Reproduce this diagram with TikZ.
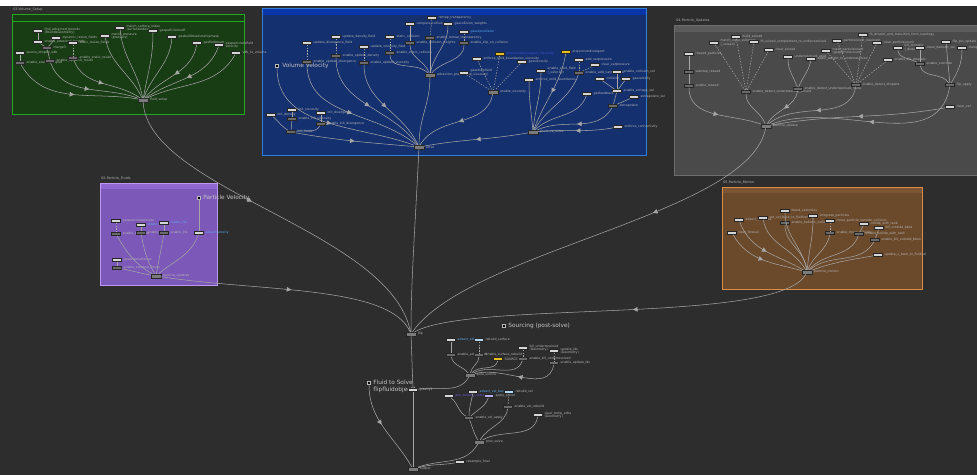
\documentclass[tikz,border=0pt]{standalone}
\usepackage{fontspec}
\setmainfont{DejaVu Sans}
\usetikzlibrary{arrows.meta}
\usetikzlibrary{decorations.markings}

\definecolor{netbg}{HTML}{2D2D2D}
\definecolor{greenfill}{HTML}{183C14}
\definecolor{greenedge}{HTML}{22A822}
\definecolor{bluefill}{HTML}{14306E}
\definecolor{bluebar}{HTML}{0835A8}
\definecolor{blueedge}{HTML}{2F7FDA}
\definecolor{grayfill}{HTML}{4A4A4A}
\definecolor{graybar}{HTML}{5C5C5C}
\definecolor{grayedge}{HTML}{6E6E6E}
\definecolor{purplefill}{HTML}{7C58B8}
\definecolor{purplebar}{HTML}{9068D2}
\definecolor{purpleedge}{HTML}{BC98F2}
\definecolor{orangefill}{HTML}{6B4A2C}
\definecolor{orangebar}{HTML}{7C5534}
\definecolor{orangeedge}{HTML}{D88E46}
\definecolor{nodewhite}{HTML}{D6D6D6}
\definecolor{switchgray}{HTML}{6A6A6A}
\definecolor{hubgray}{HTML}{7A7A7A}
\definecolor{flagyellow}{HTML}{E6BE1E}
\definecolor{paleblue}{HTML}{B4D8F2}
\definecolor{palelilac}{HTML}{B8B0EC}
\definecolor{labelgray}{HTML}{B4B4B4}
\definecolor{bigtextgray}{HTML}{C4C4C4}
\definecolor{wiregray}{HTML}{A6A6A6}
\definecolor{linkblue}{HTML}{5AB0F5}
\definecolor{deepblue}{HTML}{3A55E0}
\definecolor{linkpurple}{HTML}{6A5AE8}

\tikzset{
  nd/.style={draw=black!85, fill=nodewhite, minimum width=0.18cm, minimum height=0.065cm, inner sep=0pt, line width=0.15pt},
  sw/.style={nd, fill=switchgray},
  hub/.style={nd, fill=hubgray, minimum width=0.2cm, minimum height=0.075cm},
  ynd/.style={nd, fill=flagyellow},
  pbnd/.style={nd, fill=paleblue},
  plnd/.style={nd, fill=palelilac},
  lbl/.style={font=\fontsize{1.8}{2.1}\selectfont, text=labelgray, inner sep=0.3pt, align=left},
  lb/.style={label={[lbl,label distance=0.6pt]right:{#1}}},
  lbc/.style 2 args={label={[lbl,text=#1,label distance=0.6pt]right:{#2}}},
  dotmark/.style={rectangle, fill=black, draw=gray!55, minimum size=0.055cm, inner sep=0pt, line width=0.15pt},
  bigtext/.style={font=\fontsize{3.3}{4}\selectfont, text=bigtextgray, inner sep=0pt, anchor=west, align=left},
  boxtitle/.style={font=\fontsize{1.9}{2.2}\selectfont, text=labelgray, inner sep=0pt, anchor=west},
  wire/.style={draw=wiregray, line width=0.3pt},
  link/.style={wire, dash pattern=on 0.8pt off 0.8pt},
  flowtip/.style={postaction={decorate}, decoration={markings, mark=at position #1 with {\arrow[wiregray]{Triangle[length=2.6pt,width=2.6pt]}}}},
  flowtip/.default=0.5
}

\begin{document}
\begin{tikzpicture}[x=0.02cm,y=-0.02cm]

\useasboundingbox (0,0) rectangle (977,475);
\fill[white] (0,0) rectangle (977,475);
\fill[netbg] (0,6) rectangle (977,475);

%% network boxes
\filldraw[fill=greenfill, draw=greenedge, line width=0.5pt] (12,14) rectangle (244,114);
\draw[greenedge, line width=0.5pt] (12,21) -- (244,21);
\node[boxtitle] at (13,10) {03-Volume\_Setup};

\fill[bluebar] (262,8) rectangle (646,15);
\fill[bluefill] (262,15) rectangle (646,155);
\draw[blueedge, line width=0.5pt] (262,8) rectangle (646,155);

\fill[graybar] (674,25) rectangle (990,32);
\fill[grayfill] (674,32) rectangle (990,175);
\draw[grayedge, line width=0.4pt] (674,25) rectangle (990,175);
\node[boxtitle] at (676,21) {04-Particle\_Updates};

\fill[purplebar] (100,183) rectangle (217,189);
\fill[purplefill] (100,189) rectangle (217,285);
\draw[purpleedge, line width=0.5pt] (100,183) rectangle (217,285);
\node[boxtitle] at (101,179) {02-Particle\_Fluids};

\fill[orangebar] (722,187) rectangle (922,193);
\fill[orangefill] (722,193) rectangle (922,289);
\draw[orangeedge, line width=0.5pt] (722,187) rectangle (922,289);
\node[boxtitle] at (723,183) {05-Particle\_Motion};

%% 03 volume setup
\node[nd,lb={find\_advected\_bounds\\(BoundsGeometry)}] (gA) at (38,31) {};
\node[nd,lb=enable\_advected\_bounds] (gB) at (38,42) {};
\node[nd,lb=dynamic\_resize\_fields] (gC) at (56,38) {};
\node[nd,lb=static\_resize\_fields] (gD) at (73,43) {};
\node[nd,lb=source\_droplet\_vdb] (gE) at (20,53) {};
\node[sw,lb=enable\_source\_droplet] (gF) at (20,63) {};
\node[sw,lb=merge3] (gG) at (47,48) {};
\node[sw,lb=enable\_dynamic\_resize] (gH) at (50,61) {};
\node[sw,lb=enable\_static\_resize] (gI) at (73,58) {};
\node[nd,lb={match\_pressure\\(pressure)}] (gJ) at (105,36) {};
\node[nd,lb={match\_surface\_index\\(surfaceindex)}] (gK) at (120,28) {};
\node[nd,lb=gasparticletosdf] (gL) at (153,31) {};
\node[nd,lb=gasbuildrelationshipmask] (gM) at (172,37) {};
\node[nd,lb=gasfieldmask] (gN) at (197,43) {};
\node[nd,lb={gasparticletofield\\velocity}] (gO) at (219,45) {};
\node[nd,lb=vdb\_to\_volume] (gP) at (236,53) {};
\node[hub,lb=fluid\_setup] (fluidsetup) at (143,100) {};

\draw[wire] (gA) -- (gB);
\draw[wire] (gB) -- (gG);
\draw[wire] (gC) -- (gG);
\draw[wire] (gG) -- (gH);
\draw[link] (gD) -- (gI);
\draw[wire] (gE) -- (gF);
\draw[wire,flowtip] (gF) to[out=-60,in=170] (fluidsetup);
\draw[wire,flowtip] (gH) to[out=-70,in=160] (fluidsetup);
\draw[wire,flowtip] (gI) to[out=-70,in=145] (fluidsetup);
\draw[wire] (gJ) to[out=-80,in=115] (fluidsetup);
\draw[wire] (gK) to[out=-85,in=100] (fluidsetup);
\draw[wire] (gL) to[out=-90,in=80] (fluidsetup);
\draw[wire] (gM) to[out=-95,in=70] (fluidsetup);
\draw[wire,flowtip] (gN) to[out=-100,in=50] (fluidsetup);
\draw[wire,flowtip] (gO) to[out=-110,in=35] (fluidsetup);
\draw[wire] (gP) to[out=-120,in=25] (fluidsetup);

%% volume solve
\node[dotmark] (vvMarker) at (277,66) {};
\node[bigtext] at (282,66) {Volume Velocity};
\node[nd,lb=init\_density] (bInitDens) at (271,115) {};
\node[nd,lb=init\_viscosity] (bInitVisc) at (292,110) {};
\node[nd,lb=init\_divergence] (bInitDiv) at (321,113) {};
\node[sw,lb=enable\_init\_viscosity] (bEnInitVisc) at (292,119) {};
\node[sw,lb=enable\_init\_divergence] (bEnInitDiv) at (321,124) {};
\node[sw,lb=init\_fields] (bInitFields) at (291,132) {};
\node[nd,lb=update\_divergence\_field] (bUpdDiv) at (307,43) {};
\node[sw,lb=enable\_update\_divergence] (bEnUpdDiv) at (307,62) {};
\node[nd,lb=update\_density\_field] (bUpdDens) at (336,37) {};
\node[sw,lb=enable\_update\_density] (bEnUpdDens) at (336,56) {};
\node[nd,lb=update\_viscosity\_field] (bUpdVisc) at (364,47) {};
\node[sw,lb=enable\_update\_viscosity] (bEnUpdVisc) at (364,63) {};
\node[nd,lb=static\_collision] (bStatic) at (390,37) {};
\node[sw,lb=enable\_static\_collision] (bEnStatic) at (390,53) {};
\node[nd,lb=compute\_collision] (bCollide) at (410,24) {};
\node[sw,lb=enable\_collision\_weights] (bEnCollide) at (410,43) {};
\node[nd,lb=remap\_transparency] (bRemap) at (432,18) {};
\node[sw,lb=enable\_remap\_transparency] (bEnRemap) at (430,38) {};
\node[nd,lb=gascollision\_weights] (bCollW) at (448,24) {};
\node[nd,lbc={linkblue}{gasslipcollision}] (bSlip) at (464,32) {};
\node[sw,lb=enable\_slip\_on\_collision] (bEnSlip) at (464,43) {};
\node[hub,lb=advection\_preprocess] (bAdvPre) at (430,75) {};
\node[ynd,lbc={deepblue}{projectnondivergent\_viscosity}] (bVisYel) at (500,54) {};
\node[nd,lb=enforce\_solid\_boundaries\_viscosity] (bEnfVisc) at (477,59) {};
\node[nd,lb=gasviscosity] (bGasVisc) at (522,62) {};
\node[nd,lb={gasstrainfield\\(\_viscosity)}] (bStrain) at (464,73) {};
\node[hub,lb=enable\_viscosity] (bEnVisc) at (493,92) {};
\node[ynd,lb=projectnondivergent] (bProjYel) at (566,52) {};
\node[nd,lb={enable\_solid\_field\\(\_velocity)}] (bSolidF) at (541,71) {};
\node[nd,lb=enforce\_solid\_boundaries] (bEnforce) at (529,80) {};
\node[nd,lb=add\_varpressure] (bAddVar) at (579,60) {};
\node[nd,lb=clear\_varpressure] (bClearVar) at (595,65) {};
\node[sw,lb=enable\_add\_varpressure] (bEnAddVar) at (579,73) {};
\node[nd,lb=enable\_collision\_vel] (bColl1) at (617,72) {};
\node[nd,lb=collision\_vel] (bColl2) at (600,79) {};
\node[nd,lb=gasvelocity] (bColl3) at (626,79) {};
\node[nd,lb=enable\_voltage\_vel] (bMerge) at (617,91) {};
\node[nd,lb=gasfeedback] (bFeedback) at (587,94) {};
\node[sw,lb=extrapolate] (bExtrap) at (613,106) {};
\node[nd,lb=extrapolate\_vel] (bExtrap2) at (634,97) {};
\node[nd,lb=enforce\_connectivity] (bEnfConn) at (618,127) {};
\node[hub,lb=pressure\_solve] (bPressure) at (533,132) {};
\node[hub,lb=solve] (solve) at (419,147) {};

\draw[wire] (bInitDens) to[out=-40,in=150] (bInitFields);
\draw[wire] (bInitVisc) -- (bEnInitVisc);
\draw[wire] (bEnInitVisc) -- (bInitFields);
\draw[wire] (bInitDiv) -- (bEnInitDiv);
\draw[wire] (bEnInitDiv) to[out=-120,in=10] (bInitFields);
\draw[link] (bUpdDiv) -- (bEnUpdDiv);
\draw[link] (bUpdDens) -- (bEnUpdDens);
\draw[link] (bUpdVisc) -- (bEnUpdVisc);
\draw[link] (bStatic) -- (bEnStatic);
\draw[wire] (bCollide) -- (bEnCollide);
\draw[link] (bRemap) -- (bEnRemap);
\draw[link] (bSlip) -- (bEnSlip);
\draw[wire] (bEnStatic) to[out=-90,in=135] (bAdvPre);
\draw[wire] (bEnCollide) to[out=-90,in=110] (bAdvPre);
\draw[wire] (bEnRemap) -- (bAdvPre);
\draw[wire] (bCollW) to[out=-90,in=80] (bAdvPre);
\draw[wire] (bEnSlip) to[out=-90,in=50] (bAdvPre);
\draw[link] (bEnfVisc) -- (bEnVisc);
\draw[link] (bGasVisc) -- (bEnVisc);
\draw[link] (bStrain) -- (bEnVisc);
\draw[link] (bVisYel) -- (bEnVisc);
\draw[link] (bAddVar) -- (bEnAddVar);
\draw[link] (bClearVar) -- (bEnAddVar);
\draw[wire] (bColl1) -- (bMerge);
\draw[wire] (bColl2) -- (bMerge);
\draw[wire] (bColl3) -- (bMerge);
\draw[wire] (bMerge) -- (bExtrap);
\draw[wire] (bExtrap2) -- (bExtrap);
\draw[wire] (bEnforce) to[out=-90,in=95] (bPressure);
\draw[wire] (bSolidF) to[out=-90,in=85] (bPressure);
\draw[wire,flowtip] (bProjYel) to[out=-100,in=70] (bPressure);
\draw[wire] (bEnAddVar) to[out=-110,in=60] (bPressure);
\draw[wire] (bFeedback) to[out=-110,in=45] (bPressure);
\draw[wire,flowtip] (bExtrap) to[out=-120,in=25] (bPressure);
\draw[wire,flowtip] (bEnfConn) to[out=190,in=5] (bPressure);
\draw[wire,flowtip] (vvMarker) to[out=-90,in=160] (solve);
\draw[wire,flowtip] (bEnUpdDiv) to[out=-90,in=140] (solve);
\draw[wire,flowtip] (bEnUpdDens) to[out=-90,in=125] (solve);
\draw[wire,flowtip] (bEnUpdVisc) to[out=-90,in=115] (solve);
\draw[wire] (bAdvPre) to[out=-90,in=90] (solve);
\draw[wire,flowtip] (bEnVisc) to[out=-100,in=60] (solve);
\draw[wire,flowtip] (bPressure) to[out=190,in=10] (solve);
\draw[wire,flowtip] (bInitFields) to[out=-10,in=175] (solve);

%% 04 particle updates
\node[nd,lb=reseed\_particles] (pReseed) at (689,54) {};
\node[sw,lb=substep\_reseed] (pSubReseed) at (689,72) {};
\node[sw,lb=enable\_reseed] (pEnReseed) at (689,86) {};
\node[nd,lb={match\_input\_substeps\\(\_solved)}] (pMatch) at (714,43) {};
\node[nd,lb=build\_solved] (pBuild) at (736,37) {};
\node[nd,lb=fit\_solved\_complement\_to\_underresolved] (pFit) at (754,42) {};
\node[nd,lb=clear\_solved] (pClear) at (769,50) {};
\node[sw,lb=enable\_detect\_underresolved\_solved] (pEnDetS) at (746,92) {};
\node[nd,lb=underresolved\_valid] (pValid) at (788,57) {};
\node[nd,lb=apply\_weight\_to\_underresolved] (pWeight) at (811,59) {};
\node[sw,lb=enable\_detect\_underresolved\_fluids] (pEnDetF) at (798,89) {};
\node[nd,lb=particlecount\_noexcept] (pCount) at (837,41) {};
\node[nd,lb={mask\_particlecount\\(gasparticlecount)}] (pMask) at (826,51) {};
\node[nd,lb=fit\_droplet\_and\_transition\_from\_topology] (pFitDrop) at (863,35) {};
\node[nd,lb=clear\_particlecount] (pClearCount) at (877,43) {};
\node[nd,lb=enable\_kill\_droplets] (pKillEn) at (888,60) {};
\node[sw,lb=enable\_detect\_droplets] (pEnDetD) at (856,85) {};
\node[nd,lb={kill\_droplets\\(\_distance)}] (pKillD) at (898,48) {};
\node[nd,lb=clean\_ballistic\_vel] (pBallistic) at (920,48) {};
\node[sw,lb=enable\_override] (pEnOver) at (920,64) {};
\node[nd,lb=flip\_pic\_update] (pFlipPic) at (946,42) {};
\node[nd,lb=clamp] (pClamp) at (962,48) {};
\node[sw,lb=flip\_apply] (pFlipApply) at (950,85) {};
\node[nd,lb=clear\_vel] (pClearVel) at (950,107) {};
\node[hub,lb=particle\_update] (pUpdate) at (766,126) {};

\draw[wire] (pReseed) -- (pSubReseed);
\draw[wire] (pSubReseed) -- (pEnReseed);
\draw[link] (pMatch) -- (pEnDetS);
\draw[link] (pBuild) -- (pEnDetS);
\draw[link] (pFit) -- (pEnDetS);
\draw[link] (pClear) -- (pEnDetS);
\draw[wire] (pValid) to[out=-90,in=110] (pEnDetF);
\draw[wire] (pWeight) to[out=-100,in=70] (pEnDetF);
\draw[link] (pCount) -- (pEnDetD);
\draw[link] (pMask) -- (pEnDetD);
\draw[link] (pFitDrop) -- (pEnDetD);
\draw[link] (pClearCount) -- (pEnDetD);
\draw[link] (pKillEn) -- (pEnDetD);
\draw[wire] (pKillD) to[out=-90,in=150] (pEnOver);
\draw[wire] (pBallistic) -- (pEnOver);
\draw[wire] (pEnOver) to[out=-80,in=120] (pFlipApply);
\draw[wire] (pFlipPic) -- (pFlipApply);
\draw[wire] (pClamp) to[out=-90,in=60] (pFlipApply);
\draw[wire,flowtip] (pEnReseed) to[out=-90,in=160] (pUpdate);
\draw[wire] (pEnDetS) to[out=-90,in=110] (pUpdate);
\draw[wire,flowtip] (pEnDetF) to[out=-100,in=60] (pUpdate);
\draw[wire,flowtip] (pEnDetD) to[out=-100,in=40] (pUpdate);
\draw[wire,flowtip] (pFlipApply) to[out=-100,in=20] (pUpdate);
\draw[wire,flowtip] (pClearVel) to[out=190,in=10] (pUpdate);

%% 02 particle fluids
\node[dotmark] (pvMarker) at (199,198) {};
\node[bigtext] at (203,198) {Particle Velocity};
\node[nd,lb=gasparticleseparate] (uSep) at (116,221) {};
\node[sw,lb=enable\_separate] (uEnSep) at (116,234) {};
\node[nd,lbc={linkblue}{create\_vel}] (uCreateVel) at (141,225) {};
\node[sw,lb=enable\_vel] (uEnVel) at (141,233) {};
\node[nd,lbc={linkblue}{create\_life}] (uLife) at (164,223) {};
\node[sw,lb=enable\_life] (uEnLife) at (164,233) {};
\node[nd,lbc={linkblue}{advectvelocity}] (uAdvect) at (199,233) {};
\node[nd,lb=gasexternalforces] (uExt) at (117,260) {};
\node[sw,lb=enable\_external\_forces] (uEnExt) at (117,268) {};
\node[hub,lb=particle\_updates] (uHub) at (156,276) {};

\draw[link] (uSep) -- (uEnSep);
\draw[wire] (uCreateVel) -- (uEnVel);
\draw[wire] (uLife) -- (uEnLife);
\draw[wire] (uExt) -- (uEnExt);
\draw[wire] (pvMarker) -- (uAdvect);
\draw[wire] (uEnSep) to[out=-60,in=150] (uHub);
\draw[wire] (uEnVel) to[out=-80,in=120] (uHub);
\draw[wire] (uEnLife) to[out=-100,in=80] (uHub);
\draw[wire] (uAdvect) to[out=-110,in=40] (uHub);
\draw[wire] (uEnExt) to[out=-10,in=170] (uHub);

%% 05 particle motion
\node[nd,lb=advect\_particles] (oAdvect) at (739,220) {};
\node[nd,lb=dash\_flowvel] (oDash) at (732,233) {};
\node[nd,lb=set\_vel\_back\_to\_fluidvel] (oSetVel) at (763,218) {};
\node[nd,lb=blend\_velocities] (oBlend) at (785,211) {};
\node[sw,lb=enable\_ballistic\_collisions] (oEnBall) at (785,223) {};
\node[nd,lb=integrate\_particles] (oInteg) at (813,216) {};
\node[nd,lb=move\_particle\_outside\_collision] (oMove) at (830,221) {};
\node[sw,lb=enable\_move\_outside] (oEnMove) at (830,233) {};
\node[nd,lb=collide\_with\_tank] (oCollide) at (864,224) {};
\node[sw,lb=enable\_collide\_with\_tank] (oEnCollide) at (859,234) {};
\node[nd,lb=kill\_outside\_bbox] (oKill) at (879,228) {};
\node[sw,lb=enable\_kill\_outside\_bbox] (oEnKill) at (875,240) {};
\node[nd,lb=update\_v\_back\_to\_fluidvel] (oUpdV) at (878,255) {};
\node[hub,lb=particle\_motion] (oHub) at (807,272) {};

\draw[link] (oMove) -- (oEnMove);
\draw[wire] (oCollide) -- (oEnCollide);
\draw[wire] (oKill) -- (oEnKill);
\draw[wire,flowtip] (oAdvect) to[out=-70,in=150] (oHub);
\draw[wire,flowtip] (oDash) to[out=-60,in=165] (oHub);
\draw[wire] (oSetVel) to[out=-80,in=120] (oHub);
\draw[wire] (oBlend) to[out=-90,in=100] (oHub);
\draw[wire] (oEnBall) to[out=-90,in=95] (oHub);
\draw[wire] (oInteg) to[out=-90,in=85] (oHub);
\draw[wire] (oEnMove) to[out=-100,in=70] (oHub);
\draw[wire] (oEnCollide) to[out=-110,in=50] (oHub);
\draw[wire] (oEnKill) to[out=-120,in=40] (oHub);
\draw[wire] (oUpdV) to[out=190,in=20] (oHub);

%% flip output chain
\node[hub,lb=flip] (flip) at (411,334) {};
\node[dotmark] (srcMarker) at (504,326) {};
\node[bigtext] at (508,326) {Sourcing (post-solve)};
\node[nd,lbc={linkblue}{advect\_sdf}] (sAdvSdf) at (451,340) {};
\node[pbnd,lb=rebuild\_surface] (sRebuild) at (479,340) {};
\node[sw,lb=enable\_advect\_sdf] (sEnAdv) at (451,355) {};
\node[sw,lb=enable\_surface\_rebuild] (sEnReb) at (479,355) {};
\node[ynd,lb=SOURCE1] (sSource) at (498,359) {};
\node[nd,lb={kill\_underresolved\\(Geometry)}] (sKillU) at (523,348) {};
\node[sw,lb=enable\_kill\_underresolved] (sEnKill) at (523,359) {};
\node[nd,lb={update\_ids\\(Geometry)}] (sUpdIds) at (554,351) {};
\node[sw,lb=enable\_update\_ids] (sEnUpd) at (554,363) {};
\node[hub,lb=post\_source] (postSource) at (470,375) {};
\node[dotmark] (fluidMarker) at (369,383) {};
\node[bigtext,anchor=north west] at (373,380) {Fluid to Solve\\flipfluidobject1};
\node[nd,lb=gravity1] (gravity) at (413,390) {};
\node[nd,lbc={linkblue}{advect\_vel\_back}] (vAdv) at (473,392) {};
\node[pbnd,lb=rebuild\_vel] (vRebuild) at (509,392) {};
\node[nd,lbc={linkpurple}{pre\_velocity\_solver}] (vPre) at (449,396) {};
\node[plnd,lb=apply\_solver] (vApply) at (489,396) {};
\node[sw,lb=enable\_vel\_rebuild] (vEnReb) at (508,407) {};
\node[sw,lb=enable\_vel\_apply] (vEnApply) at (469,418) {};
\node[nd,lb={clear\_temp\_vdbs\\(Geometry)}] (vClear) at (538,415) {};
\node[hub,lb=post\_solve] (postSolve) at (479,442) {};
\node[nd,lb=resample\_final] (resample) at (460,462) {};
\node[hub,lb=output] (output) at (413,469) {};

\draw[wire] (sAdvSdf) -- (sEnAdv);
\draw[link] (sRebuild) -- (sEnReb);
\draw[link] (sKillU) -- (sEnKill);
\draw[link] (sUpdIds) -- (sEnUpd);
\draw[wire] (sEnAdv) to[out=-80,in=130] (postSource);
\draw[wire] (sEnReb) to[out=-90,in=80] (postSource);
\draw[wire] (sSource) to[out=-100,in=50] (postSource);
\draw[wire] (sEnKill) to[out=-110,in=30] (postSource);
\draw[wire,flowtip] (sEnUpd) to[out=-100,in=15] (postSource);
\draw[wire] (postSource) to[out=-120,in=10] (gravity);
\draw[wire] (vAdv) to[out=-100,in=90] (vEnApply);
\draw[wire] (vPre) to[out=-40,in=150] (vEnApply);
\draw[wire] (vApply) to[out=-110,in=45] (vEnApply);
\draw[link] (vRebuild) -- (vEnReb);
\draw[wire] (vEnApply) to[out=-70,in=120] (postSolve);
\draw[wire] (vEnReb) to[out=-100,in=60] (postSolve);
\draw[wire] (vClear) to[out=-100,in=30] (postSolve);
\draw[wire] (flip) -- (gravity);
\draw[wire] (gravity) -- (output);
\draw[wire] (postSolve) to[out=-120,in=20] (output);
\draw[wire] (resample) to[out=190,in=15] (output);
\draw[wire,flowtip=0.45] (fluidMarker) to[out=-90,in=120] (output);

%% links between networks
\draw[wire,flowtip=0.42] (fluidsetup) .. controls (148,190) and (390,230) .. (flip);
\draw[wire] (solve) .. controls (415,230) and (411,280) .. (flip);
\draw[wire,flowtip=0.35] (pUpdate) .. controls (750,215) and (470,250) .. (flip);
\draw[wire,flowtip=0.5] (uHub) .. controls (260,292) and (390,285) .. (flip);
\draw[wire,flowtip=0.45] (oHub) .. controls (780,325) and (470,300) .. (flip);

\end{tikzpicture}
\end{document}
